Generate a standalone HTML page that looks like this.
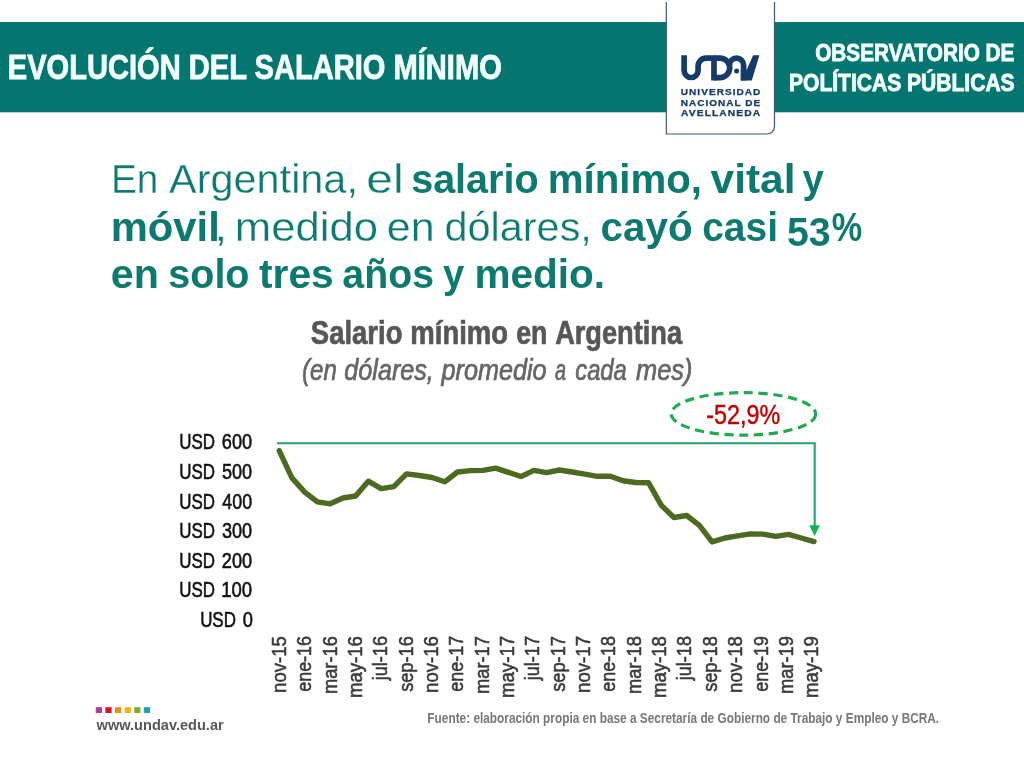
<!DOCTYPE html>
<html lang="es">
<head>
<meta charset="utf-8">
<title>Evolución del salario mínimo</title>
<style>
html,body{margin:0;padding:0;background:#fff;}
body{width:1024px;height:768px;overflow:hidden;}
svg{display:block;font-family:"Liberation Sans", sans-serif;}
.lt{stroke:#fff;stroke-width:0.3px;}
.hb{stroke:#f4fffd;stroke-width:0.8px;}
.hb2{stroke:#f4fffd;stroke-width:0.9px;}
.yl{stroke:#111;stroke-width:0.6px;}
.xl{stroke:#3a3a3a;stroke-width:0.55px;}
.lg{stroke:#153b6a;stroke-width:0.25px;}
.pc{stroke:#c00000;stroke-width:0.45px;}
.tb{stroke:#575757;stroke-width:0.7px;}
.st{stroke:#666666;stroke-width:0.7px;}
.bd{stroke:#0d7a70;stroke-width:0.5px;}
</style>
</head>
<body>
<svg width="1024" height="768" viewBox="0 0 1024 768">
<rect width="1024" height="768" fill="#ffffff"/>
<rect x="0" y="22" width="1024" height="90.3" fill="#02766f"/>
<text x="7.76" y="78.90" font-size="34.6" fill="#f4fffd" font-weight="bold" class="hb" textLength="494.06" lengthAdjust="spacingAndGlyphs">EVOLUCIÓN DEL SALARIO MÍNIMO</text>
<text x="815.22" y="60.50" font-size="24.7" fill="#f4fffd" font-weight="bold" class="hb2" textLength="199.24" lengthAdjust="spacingAndGlyphs">OBSERVATORIO DE</text>
<text x="788.98" y="91.30" font-size="24.7" fill="#f4fffd" font-weight="bold" class="hb2" textLength="225.67" lengthAdjust="spacingAndGlyphs">POLÍTICAS PÚBLICAS</text>
<path d="M666.3 0 V134 H767 A7.5 7.5 0 0 0 774.5 126.5 V0 Z" fill="#ffffff"/>
<path d="M666.3 2 V134 H767 A7.5 7.5 0 0 0 774.5 126.5 V2" fill="none" stroke="#3b5878" stroke-width="1.2"/>
<g role="img" aria-label="UNDAV"><title>UNDAV</title>
<g fill="none" stroke="#153b6a" stroke-width="5.7" stroke-linejoin="round">
<path d="M684.1 55.3 V70.5 A7 7 0 0 0 698.1 70.5 V66 A7.95 7.95 0 0 1 706 58.1 H714 V80.4"/>
<path d="M714 58.1 H720 A9.75 9.75 0 0 1 720 77.6 H714"/>
<path d="M729.4 65.2 A7.1 7.1 0 0 1 743.6 65.2 V80.4"/>
</g>
<circle cx="736.6" cy="71.1" r="2.5" fill="#153b6a"/>
<path d="M753.1 55.3 H759.4 L751.8 80.4 H740.8 V70 H746.6 Z" fill="#153b6a"/>
</g>
<text x="680.82" y="95.00" font-size="8.7" fill="#153b6a" font-weight="bold" class="lg" letter-spacing="0.9" textLength="80.53" lengthAdjust="spacingAndGlyphs">UNIVERSIDAD</text>
<text x="680.73" y="105.60" font-size="8.7" fill="#153b6a" font-weight="bold" class="lg" letter-spacing="0.9" textLength="80.59" lengthAdjust="spacingAndGlyphs">NACIONAL DE</text>
<text x="681.12" y="115.60" font-size="8.7" fill="#153b6a" font-weight="bold" class="lg" letter-spacing="0.9" textLength="80.14" lengthAdjust="spacingAndGlyphs">AVELLANEDA</text>
<text x="111.00" y="192.80" font-size="40" fill="#0d7a70" class="lt" textLength="47.35" lengthAdjust="spacingAndGlyphs">En</text>
<text x="169.10" y="192.80" font-size="40" fill="#0d7a70" class="lt" textLength="188.82" lengthAdjust="spacingAndGlyphs">Argentina,</text>
<text x="366.33" y="192.80" font-size="40" fill="#0d7a70" class="lt" textLength="37.35" lengthAdjust="spacingAndGlyphs">el</text>
<text x="411.17" y="192.80" font-size="40" fill="#0d7a70" font-weight="bold" textLength="127.43" lengthAdjust="spacingAndGlyphs">salario</text>
<text x="547.78" y="192.80" font-size="40" fill="#0d7a70" font-weight="bold" textLength="154.17" lengthAdjust="spacingAndGlyphs">mínimo,</text>
<text x="710.60" y="192.80" font-size="40" fill="#0d7a70" font-weight="bold" textLength="84.92" lengthAdjust="spacingAndGlyphs">vital</text>
<text x="802.62" y="192.80" font-size="40" fill="#0d7a70" font-weight="bold" textLength="21.37" lengthAdjust="spacingAndGlyphs">y</text>
<text x="110.68" y="241.00" font-size="40" fill="#0d7a70" font-weight="bold" textLength="109.07" lengthAdjust="spacingAndGlyphs">móvil</text>
<text x="214.22" y="241.00" font-size="40" fill="#0d7a70" class="lt" textLength="13.06" lengthAdjust="spacingAndGlyphs">,</text>
<text x="234.89" y="241.00" font-size="40" fill="#0d7a70" class="lt" textLength="143.25" lengthAdjust="spacingAndGlyphs">medido</text>
<text x="386.88" y="241.00" font-size="40" fill="#0d7a70" class="lt" textLength="47.85" lengthAdjust="spacingAndGlyphs">en</text>
<text x="444.44" y="241.00" font-size="40" fill="#0d7a70" class="lt" textLength="147.44" lengthAdjust="spacingAndGlyphs">dólares,</text>
<text x="600.64" y="241.00" font-size="40" fill="#0d7a70" font-weight="bold" textLength="91.95" lengthAdjust="spacingAndGlyphs">cayó</text>
<text x="702.19" y="241.00" font-size="40" fill="#0d7a70" font-weight="bold" textLength="75.79" lengthAdjust="spacingAndGlyphs">casi</text>
<text x="831.82" y="241.00" font-size="40" fill="#0d7a70" font-weight="bold" textLength="30.43" lengthAdjust="spacingAndGlyphs">%</text>
<text x="786.92" y="246.20" font-size="40" fill="#0d7a70" font-weight="bold" textLength="43.75" lengthAdjust="spacingAndGlyphs">53</text>
<text x="110.75" y="288.20" font-size="40" fill="#0d7a70" font-weight="bold" textLength="48.10" lengthAdjust="spacingAndGlyphs">en</text>
<text x="168.32" y="288.20" font-size="40" fill="#0d7a70" font-weight="bold" textLength="81.19" lengthAdjust="spacingAndGlyphs">solo</text>
<text x="258.99" y="288.20" font-size="40" fill="#0d7a70" font-weight="bold" textLength="74.72" lengthAdjust="spacingAndGlyphs">tres</text>
<text x="342.32" y="288.20" font-size="40" fill="#0d7a70" font-weight="bold" textLength="91.66" lengthAdjust="spacingAndGlyphs">años</text>
<text x="443.12" y="288.20" font-size="40" fill="#0d7a70" font-weight="bold" textLength="21.22" lengthAdjust="spacingAndGlyphs">y</text>
<text x="474.41" y="288.20" font-size="40" fill="#0d7a70" font-weight="bold" textLength="130.63" lengthAdjust="spacingAndGlyphs">medio.</text>
<text x="310.83" y="344.40" font-size="32.3" fill="#575757" font-weight="bold" class="tb" textLength="91.59" lengthAdjust="spacingAndGlyphs">Salario</text>
<text x="410.32" y="344.40" font-size="32.3" fill="#575757" font-weight="bold" class="tb" textLength="97.81" lengthAdjust="spacingAndGlyphs">mínimo</text>
<text x="516.18" y="344.40" font-size="32.3" fill="#575757" font-weight="bold" class="tb" textLength="31.25" lengthAdjust="spacingAndGlyphs">en</text>
<text x="555.13" y="344.40" font-size="32.3" fill="#575757" font-weight="bold" class="tb" textLength="126.94" lengthAdjust="spacingAndGlyphs">Argentina</text>
<text x="302.05" y="380.10" font-size="28.6" fill="#666666" font-style="italic" class="st" textLength="34.69" lengthAdjust="spacingAndGlyphs">(en</text>
<text x="344.35" y="380.10" font-size="28.6" fill="#666666" font-style="italic" class="st" textLength="89.52" lengthAdjust="spacingAndGlyphs">dólares,</text>
<text x="441.61" y="380.10" font-size="28.6" fill="#666666" font-style="italic" class="st" textLength="105.03" lengthAdjust="spacingAndGlyphs">promedio</text>
<text x="554.95" y="380.10" font-size="28.6" fill="#666666" font-style="italic" class="st" textLength="11.01" lengthAdjust="spacingAndGlyphs">a</text>
<text x="575.24" y="380.10" font-size="28.6" fill="#666666" font-style="italic" class="st" textLength="51.58" lengthAdjust="spacingAndGlyphs">cada</text>
<text x="636.09" y="380.10" font-size="28.6" fill="#666666" font-style="italic" class="st" textLength="56.39" lengthAdjust="spacingAndGlyphs">mes)</text>
<text x="221.79" y="449.30" font-size="22.8" fill="#111111" class="yl" textLength="30.31" lengthAdjust="spacingAndGlyphs">600</text>
<text x="179.25" y="449.30" font-size="22.8" fill="#111111" class="yl" textLength="35.76" lengthAdjust="spacingAndGlyphs">USD</text>
<text x="221.98" y="478.92" font-size="22.8" fill="#111111" class="yl" textLength="30.12" lengthAdjust="spacingAndGlyphs">500</text>
<text x="179.25" y="478.92" font-size="22.8" fill="#111111" class="yl" textLength="35.76" lengthAdjust="spacingAndGlyphs">USD</text>
<text x="222.34" y="508.54" font-size="22.8" fill="#111111" class="yl" textLength="29.74" lengthAdjust="spacingAndGlyphs">400</text>
<text x="179.25" y="508.54" font-size="22.8" fill="#111111" class="yl" textLength="35.76" lengthAdjust="spacingAndGlyphs">USD</text>
<text x="221.98" y="538.16" font-size="22.8" fill="#111111" class="yl" textLength="30.12" lengthAdjust="spacingAndGlyphs">300</text>
<text x="179.25" y="538.16" font-size="22.8" fill="#111111" class="yl" textLength="35.76" lengthAdjust="spacingAndGlyphs">USD</text>
<text x="221.79" y="567.78" font-size="22.8" fill="#111111" class="yl" textLength="30.31" lengthAdjust="spacingAndGlyphs">200</text>
<text x="179.25" y="567.78" font-size="22.8" fill="#111111" class="yl" textLength="35.76" lengthAdjust="spacingAndGlyphs">USD</text>
<text x="221.22" y="597.40" font-size="22.8" fill="#111111" class="yl" textLength="30.90" lengthAdjust="spacingAndGlyphs">100</text>
<text x="179.25" y="597.40" font-size="22.8" fill="#111111" class="yl" textLength="35.76" lengthAdjust="spacingAndGlyphs">USD</text>
<text x="242.87" y="627.02" font-size="22.8" fill="#111111" class="yl" textLength="10.20" lengthAdjust="spacingAndGlyphs">0</text>
<text x="200.15" y="627.02" font-size="22.8" fill="#111111" class="yl" textLength="35.76" lengthAdjust="spacingAndGlyphs">USD</text>
<path d="M277 443.3 H814.7 V527" fill="none" stroke="#25a36f" stroke-width="2.1"/>
<path d="M809.2 525.2 H820 L814.6 535.9 Z" fill="#14b455"/>
<ellipse cx="743.5" cy="413.9" rx="72.2" ry="21.3" fill="none" stroke="#1eaa50" stroke-width="3.2" stroke-dasharray="9.2 5.6"/>
<text x="706.29" y="423.60" font-size="27.2" fill="#c00000" class="pc" textLength="73.99" lengthAdjust="spacingAndGlyphs">-52,9%</text>
<polyline points="279.2,450.6 291.9,477.9 304.7,492.1 317.4,501.9 330.1,503.8 342.9,498.0 355.6,496.0 368.3,481.2 381.1,488.6 393.8,486.6 406.5,473.9 419.3,475.5 432.0,477.5 444.7,481.8 457.5,472.0 470.2,470.6 482.9,470.4 495.7,468.1 508.4,472.4 521.1,476.5 533.9,470.4 546.6,472.6 559.3,470.0 572.1,472.0 584.8,474.1 597.5,476.3 610.3,476.3 623.0,480.8 635.7,482.5 648.5,482.7 661.2,505.2 673.9,517.5 686.7,515.5 699.4,525.3 712.1,541.9 724.9,538.0 737.6,535.9 750.3,533.9 763.1,534.1 775.8,536.4 788.5,534.4 801.3,538.0 814.0,541.6" fill="none" stroke="#4d6b20" stroke-width="5.4" stroke-linejoin="round" stroke-linecap="round"/>
<text transform="translate(285.8 636.6) rotate(-90)" x="-56.32" y="0" font-size="19.6" fill="#3a3a3a" class="xl" textLength="56.75" lengthAdjust="spacingAndGlyphs">nov-15</text>
<text transform="translate(311.2 636.6) rotate(-90)" x="-55.14" y="0" font-size="19.6" fill="#3a3a3a" class="xl" textLength="55.65" lengthAdjust="spacingAndGlyphs">ene-16</text>
<text transform="translate(336.5 636.6) rotate(-90)" x="-57.50" y="0" font-size="19.6" fill="#3a3a3a" class="xl" textLength="57.92" lengthAdjust="spacingAndGlyphs">mar-16</text>
<text transform="translate(361.9 636.6) rotate(-90)" x="-61.53" y="0" font-size="19.6" fill="#3a3a3a" class="xl" textLength="62.08" lengthAdjust="spacingAndGlyphs">may-16</text>
<text transform="translate(387.2 636.6) rotate(-90)" x="-43.68" y="0" font-size="19.6" fill="#3a3a3a" class="xl" textLength="44.24" lengthAdjust="spacingAndGlyphs">jul-16</text>
<text transform="translate(412.6 636.6) rotate(-90)" x="-55.27" y="0" font-size="19.6" fill="#3a3a3a" class="xl" textLength="55.68" lengthAdjust="spacingAndGlyphs">sep-16</text>
<text transform="translate(437.9 636.6) rotate(-90)" x="-56.32" y="0" font-size="19.6" fill="#3a3a3a" class="xl" textLength="56.75" lengthAdjust="spacingAndGlyphs">nov-16</text>
<text transform="translate(463.2 636.6) rotate(-90)" x="-55.14" y="0" font-size="19.6" fill="#3a3a3a" class="xl" textLength="55.83" lengthAdjust="spacingAndGlyphs">ene-17</text>
<text transform="translate(488.6 636.6) rotate(-90)" x="-57.51" y="0" font-size="19.6" fill="#3a3a3a" class="xl" textLength="58.11" lengthAdjust="spacingAndGlyphs">mar-17</text>
<text transform="translate(514.0 636.6) rotate(-90)" x="-61.53" y="0" font-size="19.6" fill="#3a3a3a" class="xl" textLength="62.28" lengthAdjust="spacingAndGlyphs">may-17</text>
<text transform="translate(539.3 636.6) rotate(-90)" x="-43.68" y="0" font-size="19.6" fill="#3a3a3a" class="xl" textLength="44.24" lengthAdjust="spacingAndGlyphs">jul-17</text>
<text transform="translate(564.7 636.6) rotate(-90)" x="-55.27" y="0" font-size="19.6" fill="#3a3a3a" class="xl" textLength="55.87" lengthAdjust="spacingAndGlyphs">sep-17</text>
<text transform="translate(590.0 636.6) rotate(-90)" x="-56.33" y="0" font-size="19.6" fill="#3a3a3a" class="xl" textLength="56.94" lengthAdjust="spacingAndGlyphs">nov-17</text>
<text transform="translate(615.4 636.6) rotate(-90)" x="-55.14" y="0" font-size="19.6" fill="#3a3a3a" class="xl" textLength="55.65" lengthAdjust="spacingAndGlyphs">ene-18</text>
<text transform="translate(640.7 636.6) rotate(-90)" x="-57.50" y="0" font-size="19.6" fill="#3a3a3a" class="xl" textLength="57.92" lengthAdjust="spacingAndGlyphs">mar-18</text>
<text transform="translate(666.0 636.6) rotate(-90)" x="-61.53" y="0" font-size="19.6" fill="#3a3a3a" class="xl" textLength="62.08" lengthAdjust="spacingAndGlyphs">may-18</text>
<text transform="translate(691.4 636.6) rotate(-90)" x="-43.68" y="0" font-size="19.6" fill="#3a3a3a" class="xl" textLength="44.24" lengthAdjust="spacingAndGlyphs">jul-18</text>
<text transform="translate(716.8 636.6) rotate(-90)" x="-55.27" y="0" font-size="19.6" fill="#3a3a3a" class="xl" textLength="55.68" lengthAdjust="spacingAndGlyphs">sep-18</text>
<text transform="translate(742.1 636.6) rotate(-90)" x="-56.32" y="0" font-size="19.6" fill="#3a3a3a" class="xl" textLength="56.75" lengthAdjust="spacingAndGlyphs">nov-18</text>
<text transform="translate(767.5 636.6) rotate(-90)" x="-55.14" y="0" font-size="19.6" fill="#3a3a3a" class="xl" textLength="55.65" lengthAdjust="spacingAndGlyphs">ene-19</text>
<text transform="translate(792.8 636.6) rotate(-90)" x="-57.51" y="0" font-size="19.6" fill="#3a3a3a" class="xl" textLength="58.11" lengthAdjust="spacingAndGlyphs">mar-19</text>
<text transform="translate(818.2 636.6) rotate(-90)" x="-61.53" y="0" font-size="19.6" fill="#3a3a3a" class="xl" textLength="62.08" lengthAdjust="spacingAndGlyphs">may-19</text>
<rect x="95.8" y="707.2" width="6.2" height="5.8" fill="#b0399c"/>
<rect x="105.4" y="707.2" width="6.2" height="5.8" fill="#e0101e"/>
<rect x="115.0" y="707.2" width="6.2" height="5.8" fill="#f08a1c"/>
<rect x="124.6" y="707.2" width="6.2" height="5.8" fill="#f3b21b"/>
<rect x="134.2" y="707.2" width="6.2" height="5.8" fill="#86a62c"/>
<rect x="143.8" y="707.2" width="6.2" height="5.8" fill="#16a3b4"/>
<text x="96.60" y="729.60" font-size="14.2" fill="#58585a" font-weight="bold" textLength="127.10" lengthAdjust="spacingAndGlyphs">www.undav.edu.ar</text>
<text x="427.37" y="722.70" font-size="14.2" fill="#777777" font-weight="bold" textLength="511.79" lengthAdjust="spacingAndGlyphs">Fuente: elaboración propia en base a Secretaría de Gobierno de Trabajo y Empleo y BCRA.</text>
</svg>
</body>
</html>
